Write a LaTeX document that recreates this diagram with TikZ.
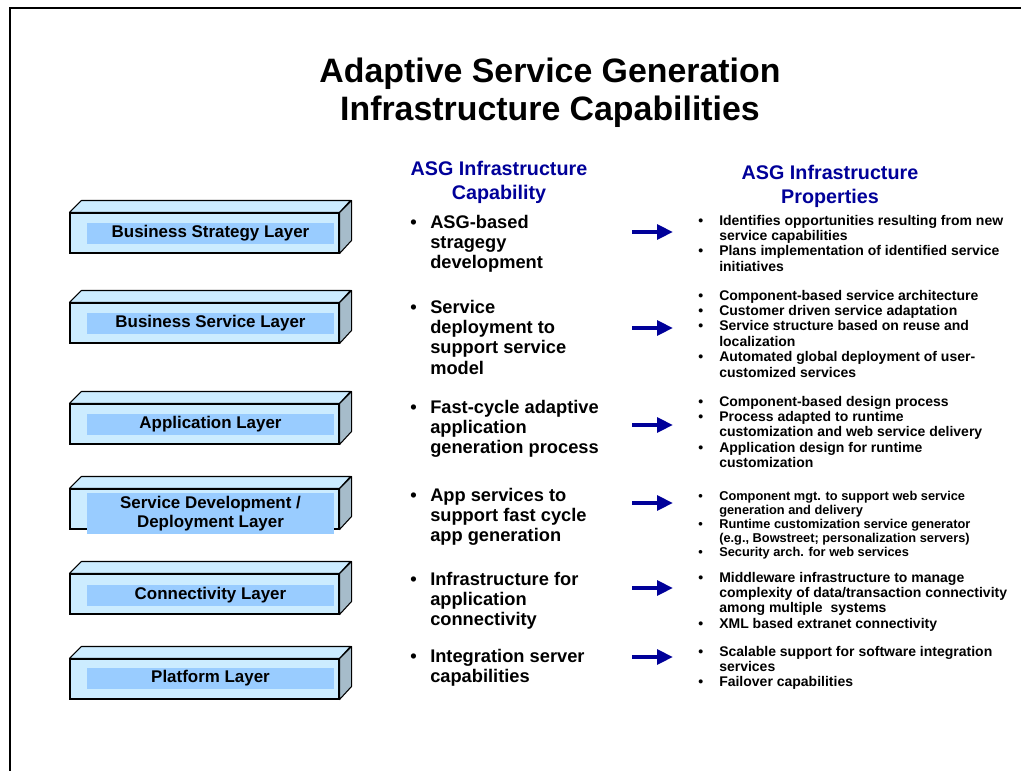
\documentclass[tikz,border=0pt]{standalone}
\usepackage{fontspec}
\setmainfont{Liberation Sans}
\usetikzlibrary{arrows.meta}

\definecolor{asgblue}{HTML}{000099}
\definecolor{layerfront}{HTML}{CCECFF}
\definecolor{layerside}{HTML}{A6BCCA}
\definecolor{layerband}{HTML}{99CCFF}

\tikzset{
  frontface/.style={draw, line width=0.8pt, fill=layerfront, minimum width=201.75pt, minimum height=30pt, inner sep=0pt},
  topface/.style={draw, line width=0.8pt, fill=layerfront, line join=round},
  sideface/.style={draw, line width=0.8pt, fill=layerside, line join=round},
  band/.style={fill=layerband, minimum width=185.25pt, minimum height=15.75pt, inner sep=0pt, align=center, font=\fontsize{12.7}{14.3}\selectfont\bfseries},
  title/.style={anchor=base, align=center, inner sep=0pt, font=\fontsize{25.4}{28.5}\selectfont\bfseries},
  colhead/.style={anchor=base, align=center, inner sep=0pt, text=asgblue, font=\fontsize{14.8}{18}\selectfont\bfseries},
  capab/.style={anchor=base west, inner sep=0pt, font=\fontsize{13.7}{15.3}\selectfont\bfseries},
  props/.style={anchor=base west, inner sep=0pt, font=\fontsize{10.5}{11.6}\selectfont\bfseries},
  propsmall/.style={props, font=\fontsize{9.6}{10.5}\selectfont\bfseries},
  maparrow/.style={asgblue, line width=3pt, -{Triangle[length=12pt,width=11pt]}},
}

\begin{document}
\begin{tikzpicture}[x=0.75pt, y=-0.75pt]
  \useasboundingbox (0,0) rectangle (1021,771);

  % Slide frame (left and top edges only)
  \draw[line width=1.5pt] (9.5,771) -- (9.5,7.7) -- (1021,7.7);

  % Title and column headings (base = last line)
  \node[title] (title) at (550,120) {Adaptive Service Generation\\Infrastructure Capabilities};
  \node[colhead] (hcap) at (499,199) {ASG Infrastructure\\Capability};
  \node[colhead] (hprop) at (830,203) {ASG Infrastructure\\Properties};

  % Layer 1: Business Strategy
  \node[frontface] (L1) at (204.5,233) {};
  \draw[topface] (L1.north west) -- ++(12,-12) -- ++(269,0) -- (L1.north east) -- cycle;
  \draw[sideface] (L1.north east) -- ++(12,-12) -- ++(0,40) -- (L1.south east) -- cycle;
  \node[band] (b1) at (210.5,233) {Business Strategy Layer};

  % Layer 2: Business Service
  \node[frontface] (L2) at (204.5,323) {};
  \draw[topface] (L2.north west) -- ++(12,-12) -- ++(269,0) -- (L2.north east) -- cycle;
  \draw[sideface] (L2.north east) -- ++(12,-12) -- ++(0,40) -- (L2.south east) -- cycle;
  \node[band] (b2) at (210.5,323) {Business Service Layer};

  % Layer 3: Application
  \node[frontface] (L3) at (204.5,424) {};
  \draw[topface] (L3.north west) -- ++(12,-12) -- ++(269,0) -- (L3.north east) -- cycle;
  \draw[sideface] (L3.north east) -- ++(12,-12) -- ++(0,40) -- (L3.south east) -- cycle;
  \node[band] (b3) at (210.5,424) {Application Layer};

  % Layer 4: Service Development / Deployment (band runs past the box)
  \node[frontface] (L4) at (204.5,509) {};
  \draw[topface] (L4.north west) -- ++(12,-12) -- ++(269,0) -- (L4.north east) -- cycle;
  \draw[sideface] (L4.north east) -- ++(12,-12) -- ++(0,40) -- (L4.south east) -- cycle;
  \node[band, minimum height=30.75pt] (b4) at (210.5,513.5) {Service Development /\\Deployment Layer};

  % Layer 5: Connectivity
  \node[frontface] (L5) at (204.5,594) {};
  \draw[topface] (L5.north west) -- ++(12,-12) -- ++(269,0) -- (L5.north east) -- cycle;
  \draw[sideface] (L5.north east) -- ++(12,-12) -- ++(0,40) -- (L5.south east) -- cycle;
  \node[band] (b5) at (210.5,595) {Connectivity Layer};

  % Layer 6: Platform
  \node[frontface] (L6) at (204.5,679) {};
  \draw[topface] (L6.north west) -- ++(12,-12) -- ++(269,0) -- (L6.north east) -- cycle;
  \draw[sideface] (L6.north east) -- ++(12,-12) -- ++(0,40) -- (L6.south east) -- cycle;
  \node[band] (b6) at (210.5,678) {Platform Layer};

  % Capabilities column
  \node[capab] (c1) at (410,228) {\begin{tabular}[t]{@{}p{15pt}@{}l@{}}
    \textbullet & ASG-based\\ & stragegy\\ & development\end{tabular}};
  \node[capab] (c2) at (410,313) {\begin{tabular}[t]{@{}p{15pt}@{}l@{}}
    \textbullet & Service\\ & deployment to\\ & support service\\ & model\end{tabular}};
  \node[capab] (c3) at (410,413) {\begin{tabular}[t]{@{}p{15pt}@{}l@{}}
    \textbullet & Fast-cycle adaptive\\ & application\\ & generation process\end{tabular}};
  \node[capab] (c4) at (410,501) {\begin{tabular}[t]{@{}p{15pt}@{}l@{}}
    \textbullet & App services to\\ & support fast cycle\\ & app generation\end{tabular}};
  \node[capab] (c5) at (410,585) {\begin{tabular}[t]{@{}p{15pt}@{}l@{}}
    \textbullet & Infrastructure for\\ & application\\ & connectivity\end{tabular}};
  \node[capab] (c6) at (410,662) {\begin{tabular}[t]{@{}p{15pt}@{}l@{}}
    \textbullet & Integration server\\ & capabilities\end{tabular}};

  % Arrows from capability to properties
  \coordinate (a1s) at (632,232); \coordinate (a1e) at (673,232);
  \coordinate (a2s) at (632,328); \coordinate (a2e) at (673,328);
  \coordinate (a3s) at (632,425); \coordinate (a3e) at (673,425);
  \coordinate (a4s) at (632,503); \coordinate (a4e) at (673,503);
  \coordinate (a5s) at (632,588); \coordinate (a5e) at (673,588);
  \coordinate (a6s) at (632,657); \coordinate (a6e) at (673,657);
  \draw[maparrow] (a1s) -- (a1e);
  \draw[maparrow] (a2s) -- (a2e);
  \draw[maparrow] (a3s) -- (a3e);
  \draw[maparrow] (a4s) -- (a4e);
  \draw[maparrow] (a5s) -- (a5e);
  \draw[maparrow] (a6s) -- (a6e);

  % Properties column
  \node[props] (p1) at (698,225) {\begin{tabular}[t]{@{}p{15.75pt}@{}l@{}}
    \textbullet & Identifies opportunities resulting from new\\ & service capabilities\\
    \textbullet & Plans implementation of identified service\\ & initiatives\end{tabular}};
  \node[props] (p2) at (698,300) {\begin{tabular}[t]{@{}p{15.75pt}@{}l@{}}
    \textbullet & Component-based service architecture\\
    \textbullet & Customer driven service adaptation\\
    \textbullet & Service structure based on reuse and\\ & localization\\
    \textbullet & Automated global deployment of user-\\ & customized services\end{tabular}};
  \node[props] (p3) at (698,406) {\begin{tabular}[t]{@{}p{15.75pt}@{}l@{}}
    \textbullet & Component-based design process\\
    \textbullet & Process adapted to runtime\\ & customization and web service delivery\\
    \textbullet & Application design for runtime\\ & customization\end{tabular}};
  \node[propsmall] (p4) at (698,500) {\begin{tabular}[t]{@{}p{15.75pt}@{}l@{}}
    \textbullet & Component mgt. to support web service\\ & generation and delivery\\
    \textbullet & Runtime customization service generator\\ & (e.g., Bowstreet; personalization servers)\\
    \textbullet & Security arch. for web services\end{tabular}};
  \node[props] (p5) at (698,582) {\begin{tabular}[t]{@{}p{15.75pt}@{}l@{}}
    \textbullet & Middleware infrastructure to manage\\ & complexity of data/transaction connectivity\\ & among multiple\ \ systems\\
    \textbullet & XML based extranet connectivity\end{tabular}};
  \node[props] (p6) at (698,656) {\begin{tabular}[t]{@{}p{15.75pt}@{}l@{}}
    \textbullet & Scalable support for software integration\\ & services\\
    \textbullet & Failover capabilities\end{tabular}};
\end{tikzpicture}
\end{document}
